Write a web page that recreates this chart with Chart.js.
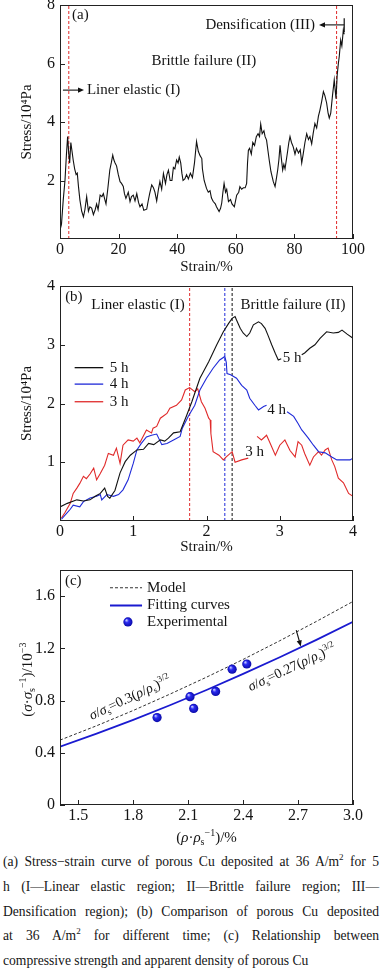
<!DOCTYPE html>
<html><head><meta charset="utf-8">
<script src="https://cdn.jsdelivr.net/npm/chart.js@4.4.1/dist/chart.umd.min.js"></script>
<style>
html,body{margin:0;padding:0;background:#fff;}
body{width:382px;height:972px;position:relative;overflow:hidden;font-family:"Liberation Serif","Times New Roman",serif;}
canvas.c{position:absolute;left:0;}
#cap{position:absolute;left:3px;width:376px;top:850px;font-size:13.6px;line-height:24.75px;color:#151515;}
#cap div{text-align:justify;text-align-last:justify;height:24.75px;}
#cap div.last{text-align-last:left;}
#cap sup{font-size:9px;line-height:0;vertical-align:6px;}
</style>
</head><body>
<canvas class="c" id="ca" width="382" height="280" style="top:0px"></canvas>
<canvas class="c" id="cb" width="382" height="280" style="top:280px"></canvas>
<canvas class="c" id="cc" width="382" height="290" style="top:560px"></canvas>
<div id="cap">
<div>(a) Stress−strain curve of porous Cu deposited at 36 A/m<sup>2</sup> for 5</div>
<div>h (I—Linear elastic region; II—Brittle failure region; III—</div>
<div>Densification region); (b) Comparison of porous Cu deposited</div>
<div>at 36 A/m<sup>2</sup> for different time; (c) Relationship between</div>
<div class="last">compressive strength and apparent density of porous Cu</div>
</div>
<script>
// ---------- DATA ----------
// (a) stress-strain, 36 A/m2, 5 h
const strainA = [0,0.5,1.1,1.7,2.2,2.6,3.0,3.3,3.7,4.1,4.5,5.0,5.5,5.9,6.3,6.8,7.4,8.0,8.5,9.1,9.7,10.2,10.8,11.4,12.0,12.5,13.0,13.7,14.3,14.8,15.3,15.7,16.3,17.0,17.5,18.0,18.4,18.8,19.3,19.9,20.5,21.0,21.6,22.0,22.5,23.3,23.9,24.4,25.0,25.6,26.2,26.8,27.3,28.0,28.6,29.6,30.1,30.6,31.3,31.9,32.4,33.0,33.6,34.1,34.7,35.3,36.0,36.5,37.0,37.6,38.2,38.7,39.2,39.8,40.3,40.7,41.2,41.6,42.0,42.6,43.2,43.8,44.5,45.2,45.9,46.6,47.2,47.8,48.4,48.6,49.2,50.0,50.6,51.2,51.7,52.3,53.0,53.4,54.3,54.8,55.2,55.6,56.0,56.5,56.9,57.5,58.2,58.7,59.5,60.3,61.0,61.4,62.0,62.6,63.2,63.7,64.0,64.3,64.7,65.3,65.8,66.4,67.0,67.6,68.1,68.5,69.0,69.6,70.0,70.5,71.0,71.4,72.0,72.8,73.4,73.9,74.3,74.7,75.1,75.5,76.0,76.4,76.8,77.6,78.1,78.5,79.0,79.6,80.2,80.7,81.4,82.0,82.5,83.0,83.6,84.2,84.8,85.3,85.9,86.4,87.0,87.6,88.2,88.7,89.3,89.9,90.4,91.0,91.5,91.9,92.4,93.0,93.6,94.2,94.6,95.0,95.3,95.8,96.2,96.7,97.0];
const stressA = [0.3,0.5,1.33,2.0,2.9,3.5,2.9,2.6,3.3,3.0,2.7,2.4,2.2,2.25,1.8,1.33,0.95,0.76,1.0,1.45,0.95,1.1,1.06,0.83,1.0,1.2,1.0,1.5,1.45,1.55,1.35,1.2,1.7,2.36,2.6,2.87,2.7,2.6,2.5,2.2,1.96,1.9,1.8,1.55,1.39,1.6,1.28,1.45,1.5,1.3,1.55,1.25,1.1,1.2,0.98,1.02,1.3,1.55,1.85,1.75,1.6,1.3,1.7,1.97,1.7,2.24,1.9,2.2,2.35,2.0,2.0,2.45,2.4,2.7,2.6,2.8,2.6,2.25,2.0,2.05,2.2,2.05,2.25,2.1,2.6,3.33,3.0,2.85,2.75,2.4,2.0,1.73,1.6,1.65,1.4,1.28,1.2,1.1,0.94,1.05,1.23,1.6,1.9,1.6,1.7,1.28,1.35,1.2,1.1,1.5,1.6,1.79,1.7,1.75,1.75,1.9,2.6,3.04,3.1,2.9,3.3,3.2,3.5,3.6,3.5,3.93,3.6,3.7,3.5,3.38,3.0,2.7,2.3,1.96,1.79,2.1,2.36,2.7,3.2,2.8,2.36,2.55,2.4,2.94,3.3,3.5,3.3,3.15,2.9,3.1,2.94,3.05,2.6,2.9,3.3,3.6,3.4,3.5,3.25,3.6,3.95,3.8,4.2,4.4,4.7,5.04,4.9,4.65,4.3,4.13,4.3,4.9,5.44,4.8,5.6,6.0,6.23,6.8,6.6,7.15,7.0];
const markersA = [3, 94.4];
const xTicksA = [0,20,40,60,80,100];
const yTicksA = [2,4,6,8];

// (b) comparison for different deposition time
const seriesB = ['5 h','4 h','3 h'];
const strainB5 = [0,0.1,0.23,0.32,0.41,0.48,0.55,0.61,0.65,0.68,0.75,0.82,0.89,0.96,1.05,1.14,1.21,1.28,1.37,1.43,1.48,1.55,1.64,1.73,1.8,1.91,2.03,2.14,2.23,2.3,2.35,2.39,2.41,2.46,2.5,2.55,2.59,2.64,2.71,2.75,2.8,2.84,2.89,2.94,2.98,3.02,3.16,3.3,3.34,3.41,3.48,3.55,3.64,3.73,3.8,3.85,3.92,4.0];
const stressB5 = [0.24,0.3,0.36,0.34,0.36,0.42,0.47,0.56,0.42,0.39,0.52,0.82,1.01,1.12,1.21,1.22,1.32,1.3,1.38,1.36,1.41,1.5,1.52,1.8,2.03,2.43,2.71,3.0,3.22,3.36,3.45,3.48,3.42,3.28,3.2,3.14,3.2,3.34,3.39,3.36,3.28,3.16,3.0,2.85,2.74,2.76,null,2.83,2.86,2.94,3.0,3.11,3.22,3.2,3.21,3.25,3.18,3.11];
const strainB4 = [0.02,0.09,0.14,0.18,0.27,0.32,0.41,0.5,0.55,0.57,0.64,0.73,0.8,0.86,0.93,1.0,1.05,1.11,1.18,1.25,1.32,1.39,1.46,1.55,1.64,1.67,1.75,1.84,1.91,2.0,2.09,2.18,2.25,2.27,2.28,2.33,2.41,2.48,2.55,2.59,2.66,2.71,2.78,2.82,2.96,3.1,3.19,3.25,3.3,3.32,3.39,3.46,3.53,3.62,3.71,3.78,3.87,3.96,4.0];
const stressB4 = [0.03,0.13,0.2,0.27,0.24,0.33,0.39,0.42,0.45,0.36,0.45,0.42,0.45,0.53,0.7,0.98,1.21,1.32,1.43,1.46,1.48,1.3,1.32,1.38,1.44,1.58,1.78,1.97,2.23,2.43,2.6,2.74,2.8,2.7,2.51,2.49,2.43,2.31,2.23,2.09,1.97,1.89,1.95,1.97,null,1.86,1.78,1.66,1.55,1.52,1.41,1.29,1.18,1.16,1.09,1.04,1.04,1.04,1.07];
const strainB3 = [0.02,0.07,0.14,0.18,0.23,0.27,0.32,0.36,0.41,0.46,0.5,0.55,0.61,0.66,0.73,0.77,0.82,0.86,0.93,1.0,1.05,1.09,1.18,1.25,1.27,1.32,1.37,1.46,1.5,1.59,1.66,1.71,1.77,1.84,1.88,1.93,1.98,2.03,2.05,2.06,2.09,2.17,2.23,2.27,2.35,2.39,2.48,2.57,2.63,2.69,2.75,2.82,2.86,2.94,3.0,3.07,3.14,3.21,3.25,3.3,3.34,3.41,3.46,3.53,3.57,3.62,3.66,3.71,3.75,3.8,3.87,3.94,4.0];
const stressB3 = [0.05,0.15,0.3,0.47,0.56,0.64,0.76,0.72,0.8,0.9,0.7,0.81,0.95,1.15,1.12,1.24,0.98,1.29,1.38,1.36,1.41,1.33,1.55,1.5,1.58,1.61,1.75,1.83,1.92,1.97,2.06,2.23,2.27,2.2,2.25,2.03,1.92,1.75,1.72,1.49,1.18,1.12,1.04,1.09,1.18,1.0,1.04,1.07,null,1.44,1.38,1.46,1.35,1.12,1.29,1.38,1.2,1.09,1.35,1.29,1.15,0.95,1.09,1.18,1.12,1.21,1.24,1.04,0.93,0.73,0.65,0.47,0.42];
const markersB = [1.77, 2.25, 2.35];
const xTicksB = [0,1,2,3,4];
const yTicksB = [1,2,3,4];

// (c) compressive strength vs apparent density
const legendC = ['Model','Fitting curves','Experimental'];
const densityC = [1.4,1.6,1.8,2.0,2.2,2.4,2.6,2.8,3.0];
const modelC = [0.497,0.607,0.724,0.849,0.979,1.115,1.258,1.406,1.559];
const fitC = [0.447,0.546,0.652,0.764,0.881,1.004,1.132,1.265,1.403];
const expDensity = [1.93,2.11,2.13,2.25,2.34,2.42];
const expStrength = [0.67,0.83,0.74,0.87,1.04,1.08];
const xTicksC = [1.5,1.8,2.1,2.4,2.7,3.0];
const yTicksC = [0,0.4,0.8,1.2,1.6];

// ---------- HELPERS ----------
const F = '"Liberation Serif","Times New Roman",serif';
const INK = '#141414';
const TICK = 16, TXT = 15;
const RED = '#e02a2a', BLUE = '#1f2ad8', BLK = '#111';
function pts(xs, ys){ return xs.map((x,i)=>({x:x, y:ys[i]})); }
function vline(v, lo, hi){ return [{x:v,y:lo},{x:v,y:hi}]; }
function fix(size, horiz){
  return function(s){
    if (horiz) s.height = size; else s.width = size;
    s.paddingLeft = 0; s.paddingRight = 0; s.paddingTop = 0; s.paddingBottom = 0;
  };
}
function xAxis(min, max, ticks, title, h, fmt){
  return {type:'linear', min:min, max:max,
    afterBuildTicks: s => { s.ticks = ticks.map(v=>({value:v})); },
    ticks:{font:{family:F,size:TICK}, color:INK, padding:1, maxRotation:0, autoSkip:false,
      callback: fmt || (v => String(v))},
    grid:{display:false, drawTicks:false}, border:{display:false},
    title:{display:!!title, text:title, font:{family:F,size:TXT}, color:INK, padding:{top:0,bottom:4}},
    afterFit: fix(h, true)};
}
function yAxis(min, max, ticks, title, fmt){
  return {type:'linear', min:min, max:max,
    afterBuildTicks: s => { s.ticks = ticks.map(v=>({value:v})); },
    ticks:{font:{family:F,size:TICK}, color:INK, padding:5, autoSkip:false,
      callback: fmt || (v => String(v))},
    grid:{display:false, drawTicks:false}, border:{display:false},
    title:{display:!!title, text:title, font:{family:F,size:TXT}, color:INK, padding:{top:18,bottom:0}},
    afterFit: fix(60, false)};
}
const framePlugin = {
  id:'frame',
  afterDatasetsDraw(chart){
    const {ctx, chartArea:a, scales:{x, y}} = chart;
    ctx.save();
    ctx.strokeStyle = '#222'; ctx.lineWidth = 1;
    ctx.strokeRect(Math.round(a.left)+0.5, Math.round(a.top)+0.5, Math.round(a.right-a.left)-1, Math.round(a.bottom-a.top)-1);
    ctx.beginPath();
    x.ticks.forEach(t => { const p = Math.round(x.getPixelForValue(t.value))+0.5; ctx.moveTo(p, a.bottom); ctx.lineTo(p, a.bottom-5); });
    y.ticks.forEach(t => { const p = Math.round(y.getPixelForValue(t.value))+0.5; ctx.moveTo(a.left, p); ctx.lineTo(a.left+5, p); });
    ctx.stroke();
    ctx.restore();
  }
};
function text(ctx, s, x, y, align, size, color, italic){
  ctx.font = (italic?'italic ':'') + (size||TXT) + 'px ' + F;
  ctx.fillStyle = color || INK; ctx.textAlign = align || 'left'; ctx.textBaseline = 'middle';
  ctx.fillText(s, x, y);
}
function arrow(ctx, x0, y0, x1, y1, color){
  const ang = Math.atan2(y1-y0, x1-x0), L = 6, W = 2.6;
  ctx.save(); ctx.strokeStyle = color||BLK; ctx.fillStyle = color||BLK; ctx.lineWidth = 1.1;
  ctx.beginPath(); ctx.moveTo(x0,y0); ctx.lineTo(x1 - Math.cos(ang)*L*0.8, y1 - Math.sin(ang)*L*0.8); ctx.stroke();
  ctx.beginPath(); ctx.moveTo(x1,y1);
  ctx.lineTo(x1 - Math.cos(ang)*L - Math.sin(ang)*W, y1 - Math.sin(ang)*L + Math.cos(ang)*W);
  ctx.lineTo(x1 - Math.cos(ang)*L + Math.sin(ang)*W, y1 - Math.sin(ang)*L - Math.cos(ang)*W);
  ctx.closePath(); ctx.fill(); ctx.restore();
}
function segFont(s, size){ const sz = (s.sub||s.sup) ? Math.round(size*0.66) : size; return (s.it?'italic ':'') + sz + 'px ' + F; }
function drawRich(ctx, segs, cx, cy, angle, size, align){
  ctx.save(); ctx.translate(cx, cy); ctx.rotate(angle);
  let w = 0; segs.forEach(s => { ctx.font = segFont(s,size); w += ctx.measureText(s.t).width; });
  let x = align === 'left' ? 0 : -w/2;
  ctx.fillStyle = INK; ctx.textAlign = 'left'; ctx.textBaseline = 'alphabetic';
  segs.forEach(s => {
    ctx.font = segFont(s,size);
    const dy = s.sub ? size*0.22 : (s.sup ? -size*0.38 : 0);
    ctx.fillText(s.t, x, dy + size*0.34);
    x += ctx.measureText(s.t).width;
  });
  ctx.restore();
}
const SOLIDBLUE = '#1414e6';
function ball(ctx, px, py, r){
  if (!isFinite(px) || !isFinite(py)) return SOLIDBLUE;
  const g = ctx.createRadialGradient(px-r*0.35, py-r*0.4, r*0.1, px, py, r);
  g.addColorStop(0, '#b8bcff'); g.addColorStop(0.35, '#2a2af0'); g.addColorStop(1, '#0a0aa8');
  return g;
}
const base = {responsive:false, animation:false, devicePixelRatio:1,
  plugins:{legend:{display:false}, tooltip:{enabled:false}}, events:[]};

// ---------- CHART (a) ----------
new Chart(document.getElementById('ca'), {
  type:'line',
  data:{datasets:[
    {data:pts(strainA, stressA), borderColor:BLK, borderWidth:1.1, pointRadius:0},
    ...markersA.map(m => ({data:vline(m,0,8), borderColor:RED, borderWidth:1, borderDash:[3,2], pointRadius:0}))
  ]},
  options:Object.assign({}, base, {
    layout:{padding:{top:5,right:29,left:0,bottom:0}},
    scales:{x:xAxis(0,100,xTicksA,'Strain/%',41), y:yAxis(0,8,yTicksA,'Stress/10\u2074Pa')}
  }),
  plugins:[framePlugin, {id:'annA', afterDraw(chart){
    const {ctx, scales:{x,y}} = chart; const X = v=>x.getPixelForValue(v), Y = v=>y.getPixelForValue(v);
    text(ctx, '(a)', X(4.1), Y(7.66));
    text(ctx, 'Brittle failure (II)', X(49.1), Y(6.09), 'center');
    text(ctx, 'Liner elastic (I)', X(9.2), Y(5.09));
    arrow(ctx, X(1.0), Y(5.09), X(8.2), Y(5.09));
    text(ctx, 'Densification (III)', X(87), Y(7.32), 'right');
    arrow(ctx, X(97), Y(7.32), X(88.4), Y(7.32));
    ctx.save(); ctx.strokeStyle = BLK; ctx.lineWidth = 1.2; ctx.beginPath();
    ctx.moveTo(X(97), Y(7.55)); ctx.lineTo(X(97), Y(7.08)); ctx.stroke(); ctx.restore();
  }}]
});

// ---------- CHART (b) ----------
const colB = [BLK, BLUE, RED];
new Chart(document.getElementById('cb'), {
  type:'line',
  data:{datasets:[
    {label:seriesB[0], data:pts(strainB5, stressB5), borderColor:colB[0], borderWidth:1.1, pointRadius:0, spanGaps:false},
    {label:seriesB[1], data:pts(strainB4, stressB4), borderColor:colB[1], borderWidth:1.1, pointRadius:0, spanGaps:false},
    {label:seriesB[2], data:pts(strainB3, stressB3), borderColor:colB[2], borderWidth:1.1, pointRadius:0, spanGaps:false},
    ...markersB.map((m,i) => ({data:vline(m,0,4), borderColor:[RED,BLUE,BLK][i], borderWidth:1, borderDash:[3,2], pointRadius:0}))
  ]},
  options:Object.assign({}, base, {
    layout:{padding:{top:6,right:29,left:0,bottom:0}},
    scales:{x:xAxis(0,4,xTicksB,'Strain/%',39), y:yAxis(0,4,yTicksB,'Stress/10\u2074Pa')}
  }),
  plugins:[framePlugin, {id:'annB', afterDraw(chart){
    const {ctx, scales:{x,y}} = chart; const X = v=>x.getPixelForValue(v), Y = v=>y.getPixelForValue(v);
    text(ctx, '(b)', X(0.07), Y(3.81));
    text(ctx, 'Liner elastic (I)', X(1.065), Y(3.68), 'center');
    text(ctx, 'Brittle failure (II)', X(3.18), Y(3.68), 'center');
    text(ctx, seriesB[0], X(3.04), Y(2.77));
    text(ctx, seriesB[1], X(2.83), Y(1.89));
    text(ctx, seriesB[2], X(2.53), Y(1.17));
    const ly = [2.61, 2.33, 2.03];
    seriesB.forEach((s,i) => {
      ctx.save(); ctx.strokeStyle = colB[i]; ctx.lineWidth = 1.3; ctx.beginPath();
      ctx.moveTo(X(0.2), Y(ly[i])); ctx.lineTo(X(0.59), Y(ly[i])); ctx.stroke(); ctx.restore();
      text(ctx, s, X(0.68), Y(ly[i]));
    });
  }}]
});

// ---------- CHART (c) ----------
new Chart(document.getElementById('cc'), {
  type:'line',
  data:{datasets:[
    {type:'scatter', label:legendC[2], data:pts(expDensity, expStrength), borderWidth:0, pointRadius:4.6,
      backgroundColor: c => {
        if (!c.parsed || c.type !== 'data') return SOLIDBLUE;
        const ch = c.chart;
        return ball(ch.ctx, ch.scales.x.getPixelForValue(c.parsed.x), ch.scales.y.getPixelForValue(c.parsed.y), 4.6);
      }},
    {label:legendC[1], data:pts(densityC, fitC), borderColor:'#1a1ad0', borderWidth:1.8, pointRadius:0},
    {label:legendC[0], data:pts(densityC, modelC), borderColor:'#333', borderWidth:1, borderDash:[3,2], pointRadius:0}
  ]},
  options:Object.assign({}, base, {
    layout:{padding:{top:10,right:29,left:0,bottom:0}},
    scales:{x:xAxis(1.4,3.0,xTicksC,'',45, v=>v.toFixed(1)), y:yAxis(0,1.8,yTicksC,'', v=>(v===0?'0':v.toFixed(1)))}
  }),
  plugins:[framePlugin, {id:'annC', afterDraw(chart){
    const {ctx, scales:{x,y}} = chart; const X = v=>x.getPixelForValue(v), Y = v=>y.getPixelForValue(v);
    text(ctx, '(c)', X(1.427), Y(1.718));
    // legend
    ctx.save(); ctx.strokeStyle = '#333'; ctx.lineWidth = 1; ctx.setLineDash([3,2]); ctx.beginPath();
    ctx.moveTo(X(1.673), Y(1.664)); ctx.lineTo(X(1.848), Y(1.664)); ctx.stroke(); ctx.restore();
    text(ctx, legendC[0], X(1.875), Y(1.664));
    ctx.save(); ctx.strokeStyle = '#1a1ad0'; ctx.lineWidth = 1.8; ctx.beginPath();
    ctx.moveTo(X(1.673), Y(1.528)); ctx.lineTo(X(1.848), Y(1.528)); ctx.stroke(); ctx.restore();
    text(ctx, legendC[1], X(1.875), Y(1.528));
    ctx.save(); ctx.fillStyle = ball(ctx, X(1.771), Y(1.402), 4.6); ctx.beginPath(); ctx.arc(X(1.771), Y(1.402), 4.6, 0, Math.PI*2); ctx.fill(); ctx.restore();
    text(ctx, legendC[2], X(1.875), Y(1.402));
    // equations
    const ang = -0.44;
    drawRich(ctx, [{t:'\u03c3',it:1},{t:'/'},{t:'\u03c3',it:1},{t:'s',sub:1},{t:'=0.3('},{t:'\u03c1',it:1},{t:'/'},{t:'\u03c1',it:1},{t:'s',sub:1},{t:')'},{t:'3/2',sup:1}], X(1.78), Y(0.828), ang, 14);
    drawRich(ctx, [{t:'\u03c3',it:1},{t:'/'},{t:'\u03c3',it:1},{t:'s',sub:1},{t:'=0.27('},{t:'\u03c1',it:1},{t:'/'},{t:'\u03c1',it:1},{t:'s',sub:1},{t:')'},{t:'3/2',sup:1}], X(2.664), Y(1.059), ang, 14);
    arrow(ctx, X(2.69), Y(1.34), X(2.715), Y(1.215));
    // axis titles
    drawRich(ctx, [{t:'('},{t:'\u03c3',it:1},{t:'\u00b7'},{t:'\u03c3',it:1},{t:'s',sub:1},{t:'\u22121',sup:1},{t:')/10'},{t:'\u22123',sup:1}], 27, Y(0.96), -Math.PI/2, 15);
    drawRich(ctx, [{t:'('},{t:'\u03c1',it:1},{t:'\u00b7'},{t:'\u03c1',it:1},{t:'s',sub:1},{t:'\u22121',sup:1},{t:')/%'}], (chart.chartArea.left+chart.chartArea.right)/2, 277, 0, 15);
  }}]
});
</script>
</body></html>
